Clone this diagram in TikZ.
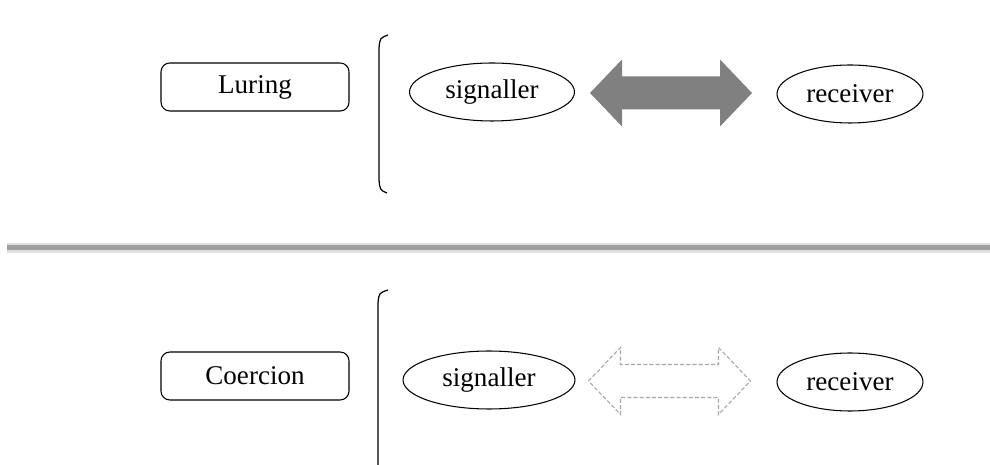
\documentclass[tikz,border=0pt]{standalone}
\usepackage{fontspec}
\setmainfont{Liberation Serif}
\usetikzlibrary{calc, shapes.geometric}

\tikzset{
  kind/.style={draw, rounded corners=5pt, line width=0.6pt, minimum width=3.76cm, minimum height=0.96cm},
  party/.style={draw, ellipse, line width=0.6pt, minimum height=1.16cm},
  brace/.style={line width=0.7pt},
  solidarrow/.style={fill=gray!100},
  dashedarrow/.style={draw=gray!70, line width=0.6pt, dash pattern=on 2.3pt off 1.2pt},
}

\begin{document}
\begin{tikzpicture}[x=0.02cm, y=-0.02cm, font=\fontsize{15.4}{18}\selectfont]
  \useasboundingbox (0,0) rectangle (990,465);

  % upper half: luring
  \node[kind] (luring) at (255,87) {Luring};
  \draw[brace] (388,35) .. controls (380,38) .. (379,48) -- (379,180) .. controls (380,190) .. (387,193);
  \node[party, minimum width=3.3cm] (sigA) at (492,92) {signaller};
  \node[party, minimum width=2.92cm] (recA) at (850,94) {receiver};
  \coordinate (midA) at ($(sigA)!0.5!(recA)$);

  % separator
  \draw[gray!25, line width=0.2cm] (7,248) -- (990,248);
  \draw[gray!75, line width=0.1cm] (7,248) -- (990,248);

  % lower half: coercion
  \node[kind] (coercion) at (255,376) {Coercion};
  \draw[brace] (388,290) .. controls (379,293) .. (378,303) -- (378,465);
  \node[party, minimum width=3.44cm] (sigB) at (489,380) {signaller};
  \node[party, minimum width=2.92cm] (recB) at (850,382) {receiver};
  \coordinate (midB) at ($(sigB)!0.5!(recB)$);

  % double arrows between the two parties
  \foreach \m/\s in {midA/solidarrow, midB/dashedarrow}
    \path[\s] ($(\m)+(-81,0)$) -- ++(32,-33.5) -- ++(0,17) -- ++(98,0) -- ++(0,-17)
      -- ++(32,33.5) -- ++(-32,33.5) -- ++(0,-17) -- ++(-98,0) -- ++(0,17) -- cycle;
\end{tikzpicture}
\end{document}
